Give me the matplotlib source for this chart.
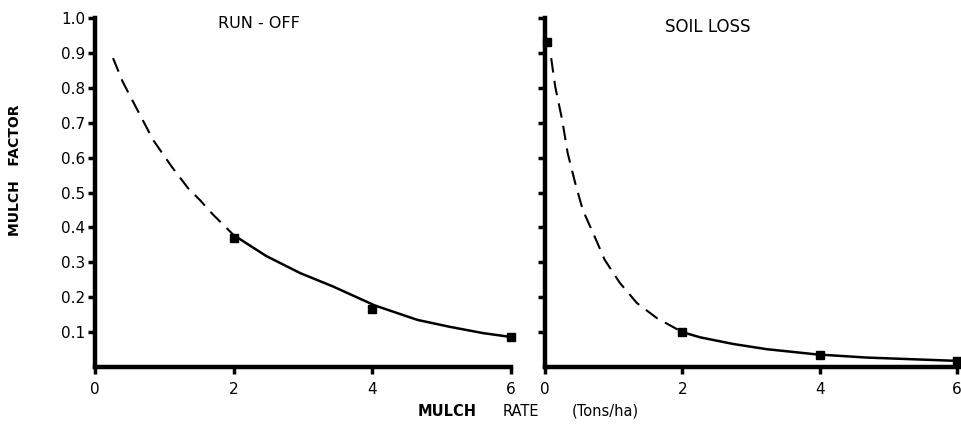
import matplotlib
matplotlib.use("Agg")
import matplotlib.pyplot as plt

# ---- data ----
rate_ticks = [0, 2, 4, 6]
factor_ticks = [0.1, 0.2, 0.3, 0.4, 0.5, 0.6, 0.7, 0.8, 0.9, 1.0]
factor_tick_labels = ["0.1", "0.2", "0.3", "0.4", "0.5", "0.6", "0.7", "0.8", "0.9", "1.0"]

rate_points = [2, 4, 6]
runoff_points = [0.37, 0.165, 0.085]
soil_points = [0.10, 0.033, 0.018]

soil_zero_x = [0.03]
soil_zero_y = [0.93]

runoff_dash_x = [0.26, 0.40, 0.61, 0.84, 1.11, 1.34, 1.52, 1.70, 2.0]
runoff_dash_y = [0.885, 0.817, 0.737, 0.650, 0.573, 0.513, 0.477, 0.437, 0.378]
runoff_solid_x = [2.0, 2.47, 2.96, 3.43, 4.04, 4.65, 5.12, 5.60, 6.0]
runoff_solid_y = [0.378, 0.318, 0.269, 0.231, 0.176, 0.135, 0.115, 0.097, 0.086]

soil_dash_x = [0.09, 0.15, 0.25, 0.33, 0.44, 0.55, 0.70, 0.87, 1.09, 1.34, 1.63, 2.0]
soil_dash_y = [0.885, 0.802, 0.708, 0.613, 0.527, 0.45, 0.384, 0.307, 0.241, 0.183, 0.140, 0.100]
soil_solid_x = [2.0, 2.26, 2.74, 3.23, 3.96, 4.69, 5.94]
soil_solid_y = [0.100, 0.085, 0.066, 0.051, 0.036, 0.027, 0.018]

titles = ["RUN - OFF", "SOIL LOSS"]

fig = plt.figure(figsize=(9.61, 4.32), dpi=100)
W, H = 961, 432
ax1 = fig.add_axes([95 / W, 1 - 367 / H, (511 - 95) / W, 349 / H])
ax2 = fig.add_axes([545 / W, 1 - 367 / H, (957 - 545) / W, 349 / H])

panels = [
    (ax1, runoff_dash_x, runoff_dash_y, runoff_solid_x, runoff_solid_y, runoff_points, True),
    (ax2, soil_dash_x, soil_dash_y, soil_solid_x, soil_solid_y, soil_points, False),
]

for ax, dx, dy, sx, sy, pts, show_ylabels in panels:
    ax.plot(dx, dy, color="black", lw=1.5, dashes=(7, 4), clip_on=False)
    ax.plot(sx, sy, color="black", lw=1.8, clip_on=False)
    ax.plot(rate_points, pts, "s", color="black", ms=5.5, clip_on=False)
    ax.set_xlim(0, 6)
    ax.set_ylim(0, 1.0)
    for s in ["top", "right"]:
        ax.spines[s].set_visible(False)
    for s in ["left", "bottom"]:
        ax.spines[s].set_linewidth(3.2)
    ax.set_xticks(rate_ticks)
    ax.set_xticklabels([str(t) for t in rate_ticks], fontsize=11)
    ax.set_yticks(factor_ticks)
    if show_ylabels:
        ax.set_yticklabels(factor_tick_labels, fontsize=11)
    else:
        ax.set_yticklabels([])
    ax.tick_params(axis="both", direction="out", length=5, width=2.5, pad=2)
    ax.tick_params(axis="x", pad=6)
    ax.set_facecolor("white")

ax2.plot(soil_zero_x, soil_zero_y, "s", color="black", ms=5.5, clip_on=False)
ax2.spines["bottom"].set_bounds(0, 6.05)

fig.text(259 / W, 1 - 24 / H, titles[0], ha="center", va="center", fontsize=11.5)
fig.text(708 / W, 1 - 27.5 / H, titles[1], ha="center", va="center", fontsize=12)

fig.text(15 / W, 1 - 170 / H, "MULCH   FACTOR", rotation=90, ha="center", va="center",
         fontsize=10, fontweight="bold")
fig.text(418 / W, 1 - 411 / H, "MULCH", ha="left", va="center", fontsize=10.5, fontweight="semibold")
fig.text(503 / W, 1 - 411 / H, "RATE", ha="left", va="center", fontsize=10.5)
fig.text(572 / W, 1 - 411 / H, "(Tons/ha)", ha="left", va="center", fontsize=10.5)

fig.savefig("out.png", dpi=100, facecolor="white")
